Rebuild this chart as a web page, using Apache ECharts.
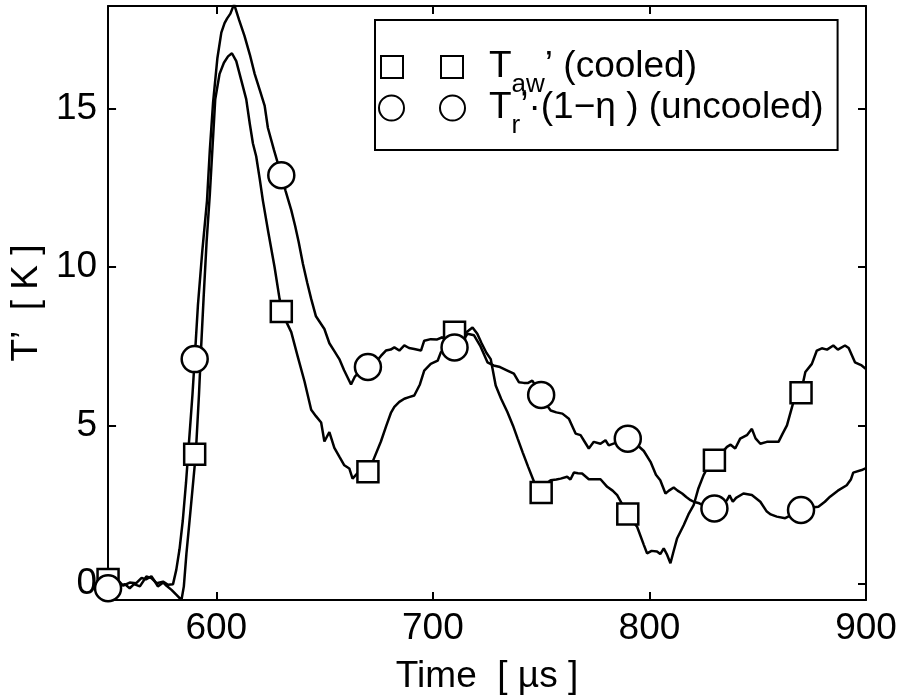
<!DOCTYPE html>
<html>
<head>
<meta charset="utf-8">
<title>T' over time</title>
<script src="https://cdn.jsdelivr.net/npm/echarts@6/dist/echarts.min.js"></script>
<style>
  html, body { margin: 0; background: #fff; }
  #main { width: 902px; height: 700px; }
</style>
</head>
<body>
<div id="main"></div>
<script>
// cooled trace T_aw' (µs, K)
var timeCooled = [550, 552.5, 555, 557, 560, 563, 565.5, 567.5, 570, 571.5, 573, 575.5, 577, 579.3, 581.6, 583.9, 585, 586.2, 587.5, 589, 590.5, 592, 593, 594.1, 595.5, 597, 599.5, 601.5, 603.5, 605.4, 607.2, 609.2, 611.5, 613.8, 615.5, 616.9, 618.4, 620, 621.5, 624, 626.9, 629.2, 630.5, 632.5, 634.6, 637.5, 640.7, 643.8, 646, 648.4, 649.9, 652.2, 654.5, 657, 659.1, 661.4, 662.9, 665.2, 667.5, 670.3, 673, 676, 678.5, 680.6, 682.2, 684.5, 686.8, 689, 691.4, 694, 696, 699, 702.2, 703.7, 706, 708, 710, 712, 714.5, 716.5, 718.3, 720.5, 722.5, 724.7, 726.7, 729, 731.5, 734.4, 737, 739.1, 741.5, 744, 746.7, 750, 752, 754.4, 757, 759, 762, 763.5, 765.1, 767, 768.9, 772, 775, 777.4, 780.5, 783, 785.1, 788, 790.2, 792, 794.3, 797.4, 798.9, 801, 803.5, 805, 806.6, 808, 809.7, 811, 812.8, 815.8, 818, 820.4, 822.5, 825, 827, 829.6, 832, 833.5, 835.8, 837.5, 839.6, 841.9, 845, 847.3, 849, 851.2, 854.2, 857, 859.6, 861.5, 863.5, 866.5, 869.9, 872, 875, 877.3, 879.6, 882, 884.9, 887, 890.3, 892, 894.9, 898, 900];
var valCooled = [0.15, 0.0, 0.1, -0.05, 0.05, 0.03, 0.2, 0.15, 0.25, 0.1, -0.07, 0.05, -0.05, -0.18, -0.34, -0.5, -0.07, 0.97, 1.9, 3.0, 4.1, 6.0, 7.5, 9.0, 10.8, 12.3, 15.3, 16.1, 16.45, 16.65, 16.75, 16.5, 15.9, 15.3, 14.5, 13.9, 13.5, 12.8, 12.1, 11.1, 10.0, 9.0, 8.6, 8.25, 7.95, 7.2, 6.4, 5.5, 5.3, 5.1, 4.5, 4.8, 4.3, 4.0, 3.75, 3.65, 3.33, 3.5, 3.5, 3.55, 4.0, 4.5, 5.0, 5.4, 5.59, 5.75, 5.85, 5.9, 5.95, 6.3, 6.74, 6.95, 7.05, 7.32, 7.45, 7.7, 7.95, 7.95, 7.9, 8.0, 8.1, 7.9, 7.6, 7.3, 7.1, 6.27, 5.85, 5.43, 5.0, 4.6, 4.15, 3.7, 3.23, 2.89, 3.15, 3.28, 3.3, 3.33, 3.39, 3.3, 3.52, 3.5, 3.49, 3.31, 3.31, 3.31, 3.07, 2.95, 2.81, 2.45, 2.21, 2.0, 1.81, 1.24, 0.97, 1.05, 1.03, 0.95, 1.13, 0.95, 0.66, 1.0, 1.45, 1.86, 2.2, 2.49, 3.0, 3.44, 3.7, 3.91, 4.05, 4.15, 4.33, 4.4, 4.28, 4.59, 4.7, 4.9, 4.6, 4.43, 4.49, 4.49, 4.49, 4.75, 5.01, 5.75, 6.04, 6.69, 6.95, 7.37, 7.44, 7.4, 7.53, 7.4, 7.53, 7.45, 7.0, 6.9, 6.79];

// uncooled trace T_r'(1-eta) (µs, K)
var timeUncooled = [550, 552, 555, 557.7, 560, 562, 564.7, 567.7, 570, 572.4, 575.4, 577.7, 580, 581.5, 583, 584.5, 586, 587.5, 589, 590, 591.5, 593.5, 595.7, 597, 598.5, 600.5, 602.3, 603.8, 605, 606.5, 608.2, 610.5, 613, 615.5, 617.7, 620, 622.3, 623.8, 626.6, 630, 632, 634.6, 636.4, 638, 640, 642, 643.8, 646, 649.9, 652.2, 654.5, 656.8, 659, 662.2, 664, 666, 670, 673, 676, 678.3, 680.5, 682.2, 684.5, 686.8, 689, 691.4, 694.5, 696, 699, 702, 704.4, 707, 710, 713, 716, 719, 722, 725.2, 728, 731, 734.4, 737.4, 739.7, 742, 744, 745.9, 748, 750, 752, 754.4, 757, 759.8, 762.8, 765.9, 768.2, 770, 772, 774.3, 777.4, 779.7, 781.2, 784, 787, 790, 793, 795, 797.4, 800.5, 803, 805, 807.4, 809, 811.2, 813, 815.1, 817, 819, 820.4, 823, 826, 829.6, 833, 835.8, 837, 838.5, 840, 843.4, 847.3, 851.2, 854.2, 856, 858.8, 862.7, 866, 869.6, 873, 878, 881, 883.4, 887, 891.1, 893, 894.1, 898, 900];
var valUncooled = [-0.05, 0.05, -0.07, 0.0, -0.13, 0.0, -0.07, 0.24, 0.19, 0.03, 0.08, -0.02, 0.0, 0.45, 1.1, 2.0, 3.2, 4.6, 6.0, 7.1, 8.8, 10.5, 12.1, 13.7, 15.2, 16.6, 17.4, 17.7, 17.85, 18.0, 18.3, 17.8, 17.3, 16.7, 16.1, 15.6, 15.1, 14.4, 13.7, 12.9, 12.4, 11.8, 11.3, 10.8, 10.1, 9.5, 9.0, 8.45, 8.05, 7.6, 7.35, 7.1, 6.75, 6.3, 6.55, 6.7, 6.85, 6.95, 7.2, 7.37, 7.4, 7.47, 7.37, 7.53, 7.45, 7.42, 7.37, 7.68, 7.73, 7.72, 7.79, 7.6, 7.47, 7.6, 7.9, 7.85, 7.5, 7.0, 6.9, 6.85, 6.74, 6.64, 6.37, 6.35, 6.35, 6.42, 6.2, 5.97, 5.7, 5.48, 5.42, 5.38, 5.22, 4.75, 4.7, 4.5, 4.28, 4.49, 4.43, 4.54, 4.38, 4.45, 4.55, 4.59, 4.5, 4.35, 4.2, 3.86, 3.45, 3.28, 2.86, 2.95, 3.05, 2.95, 2.86, 2.75, 2.65, 2.6, 2.55, 2.45, 2.39, 2.5, 2.65, 2.8, 2.6, 2.72, 2.86, 2.81, 2.6, 2.29, 2.2, 2.13, 2.08, 2.2, 2.34, 2.4, 2.44, 2.6, 2.76, 2.95, 3.12, 3.3, 3.52, 3.6, 3.66];

// marker samples every 40 µs
var markerTimes = [550, 590, 630, 670, 710, 750, 790, 830, 870];
var markerCooled = [0.15, 4.1, 8.6, 3.55, 7.95, 2.89, 2.21, 3.91, 6.04];
var markerUncooled = [-0.13, 7.1, 12.9, 6.85, 7.47, 5.97, 4.59, 2.39, 2.34];

var xTicks = [600, 700, 800, 900];
var yTicks = [0, 5, 10, 15];

function zip(a, b) {
  return a.map(function (v, i) { return [v, b[i]]; });
}

var FONT = 'Liberation Sans, Arial, Helvetica, sans-serif';
var myChart = echarts.init(document.getElementById('main'));

var frameLine = { show: true, onZero: false, lineStyle: { color: '#000', width: 2 } };

option = {
  animation: false,
  backgroundColor: '#fff',
  grid: { left: 106.5, right: 36, top: 6, bottom: 98 },
  xAxis: [{
    type: 'value', min: 550, max: 900, position: 'bottom',
    axisLine: frameLine, splitLine: { show: false },
    axisTick: { inside: true, length: 8, lineStyle: { color: '#000', width: 2 }, customValues: xTicks },
    axisLabel: { customValues: xTicks, margin: 10, fontSize: 37, color: '#000', fontFamily: FONT },
    name: 'Time  [ µs ]', nameLocation: 'middle', nameGap: 58,
    nameTextStyle: { fontSize: 37, color: '#000', fontFamily: FONT }
  }, {
    type: 'value', min: 550, max: 900, position: 'top',
    axisLine: frameLine, splitLine: { show: false },
    axisTick: { inside: true, length: 8, lineStyle: { color: '#000', width: 2 }, customValues: xTicks },
    axisLabel: { show: false }
  }],
  yAxis: [{
    type: 'value', min: -0.5, max: 18.24, position: 'left',
    axisLine: frameLine, splitLine: { show: false },
    axisTick: { inside: true, length: 8, lineStyle: { color: '#000', width: 2 }, customValues: yTicks },
    axisLabel: { customValues: yTicks, margin: 11, fontSize: 37, color: '#000', fontFamily: FONT },
    name: 'T’  [ K ]', nameLocation: 'middle', nameGap: 58, nameRotate: 90,
    nameTextStyle: { fontSize: 37, color: '#000', fontFamily: FONT }
  }, {
    type: 'value', min: -0.5, max: 18.24, position: 'right',
    axisLine: frameLine, splitLine: { show: false },
    axisTick: { inside: true, length: 8, lineStyle: { color: '#000', width: 2 }, customValues: yTicks },
    axisLabel: { show: false }
  }],
  legend: {
    orient: 'vertical', left: 375, top: 20,
    itemWidth: 86, itemHeight: 25, itemGap: -21,
    padding: [16, 14, 11, 3],
    borderColor: '#000', borderWidth: 2,
    selectedMode: false,
    data: [
      { name: 'cooled', icon: 'path://M0,0M86,25M2,1.5h22v22h-22zM62,1.5h22v22h-22z',
        itemStyle: { color: '#fff', borderColor: '#000', borderWidth: 2 } },
      { name: 'uncooled', icon: 'path://M0,12.5A12.5,12.5,0,1,1,25,12.5A12.5,12.5,0,1,1,0,12.5ZM61,12.5A12.5,12.5,0,1,1,86,12.5A12.5,12.5,0,1,1,61,12.5Z',
        itemStyle: { color: '#fff', borderColor: '#000', borderWidth: 2 } }
    ],
    formatter: function (name) {
      if (name === 'cooled') return '{t|T}{s|aw}{m|’ (cooled)}';
      return '{t|T}{s|r}{m|’·(1−η ) (uncooled)}';
    },
    textStyle: {
      color: '#000', fontFamily: FONT, fontSize: 37,
      rich: {
        t: { fontSize: 37, fontFamily: FONT, lineHeight: 42, padding: [0, 0, 0, 19] },
        m: { fontSize: 37, fontFamily: FONT, lineHeight: 42 },
        s: { fontSize: 26, fontFamily: FONT, lineHeight: 26, padding: [36, 0, 0, 0] }
      }
    }
  },
  series: [{
    type: 'line', name: 'cooled-trace', data: zip(timeCooled, valCooled),
    symbol: 'none', lineStyle: { color: '#000', width: 2.5 }, z: 2
  }, {
    type: 'line', name: 'uncooled-trace', data: zip(timeUncooled, valUncooled),
    symbol: 'none', lineStyle: { color: '#000', width: 2.5 }, z: 2
  }, {
    type: 'scatter', name: 'cooled', data: zip(markerTimes, markerCooled),
    symbol: 'rect', symbolSize: 21, clip: false,
    itemStyle: { color: '#fff', borderColor: '#000', borderWidth: 2.5, opacity: 1 }, z: 3
  }, {
    type: 'scatter', name: 'uncooled', data: zip(markerTimes, markerUncooled),
    symbol: 'circle', symbolSize: 26, clip: false,
    itemStyle: { color: '#fff', borderColor: '#000', borderWidth: 2.5, opacity: 1 }, z: 4
  }]
};
myChart.setOption(option);
</script>
</body>
</html>
